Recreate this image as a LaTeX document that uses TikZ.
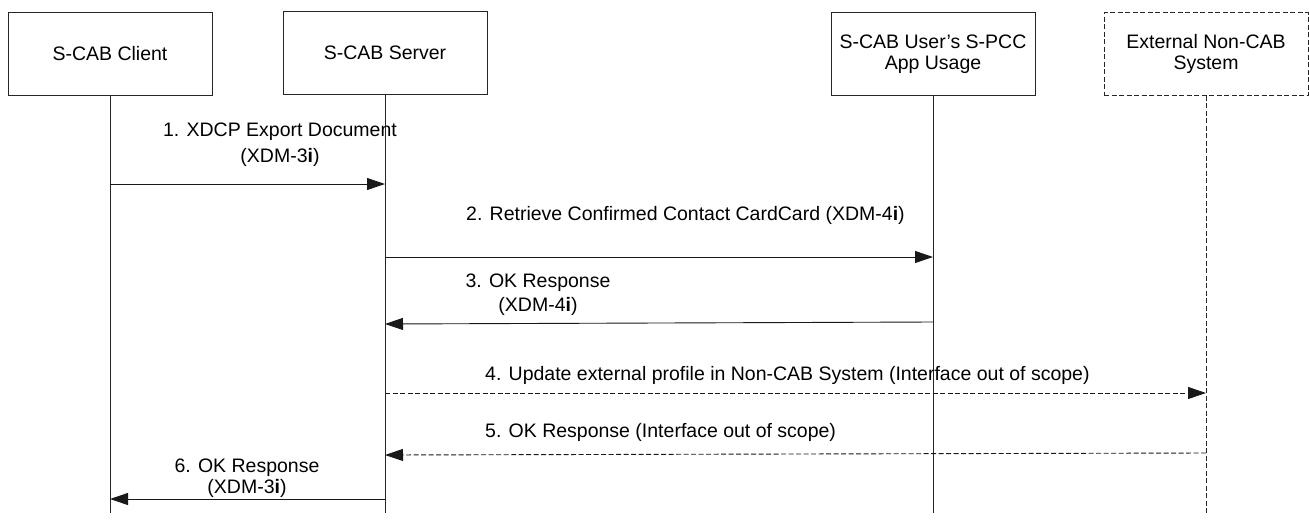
\documentclass[tikz,border=0pt]{standalone}
\usepackage{fontspec}
\setmainfont{Liberation Sans}
\usetikzlibrary{arrows.meta}
\begin{document}
\begin{tikzpicture}[x=1pt,y=-1pt,
  box/.style={draw=black!85,line width=0.9pt,minimum width=204pt,minimum height=83pt,inner sep=2pt,align=center,font=\fontsize{19.5}{23}\selectfont},
  dbox/.style={box,dash pattern=on 5pt off 2.5pt},
  life/.style={draw=black!85,line width=0.9pt},
  dlife/.style={life,dash pattern=on 5pt off 2.5pt},
  msg/.style={draw=black!90,line width=0.9pt,-{Triangle[length=18pt,width=12pt]}},
  dmsg/.style={msg,dash pattern=on 5pt off 2.5pt},
  lbl/.style={inner sep=0pt,align=center}]
\useasboundingbox (0,0) rectangle (1309,523);
\fill[white] (0,0) rectangle (1309,523);
% participants
\node[box] (c) at (110,53.5) {S-CAB Client};
\node[box] (s) at (385,53) {S-CAB Server};
\node[box] (u) at (933,54) {S-CAB User's S-PCC\\[-2pt]App Usage};
\node[dbox] (e) at (1206,54) {External Non-CAB\\[-2pt]System};
% lifeline ends
\coordinate (ce) at (110,513);
\coordinate (se) at (385,513);
\coordinate (ue) at (933,513);
\coordinate (ee) at (1206,513);
\draw[life] (c.south) -- (ce);
\draw[life] (s.south) -- (se);
\draw[life] (u.south) -- (ue);
\draw[dlife] (e.south) -- (ee);
% messages
\draw[msg] (c.south |- 0,184) -- (s.south |- 0,184);
\draw[msg] (s.south |- 0,257) -- (u.south |- 0,257);
\draw[msg] (u.south |- 0,322) -- (s.south |- 0,324);
\draw[dmsg] (s.south |- 0,393) -- (e.south |- 0,393);
\draw[dmsg] (e.south |- 0,453) -- (s.south |- 0,455);
\draw[msg] (s.south |- 0,499) -- (c.south |- 0,499);
% labels
\node[lbl,font=\fontsize{19.5}{26}\selectfont] (l1) at (280,145) {1. XDCP Export Document\\(XDM-3\textbf{i})};
\node[lbl,anchor=west,font=\fontsize{19.5}{23}\selectfont] (l2) at (466,215) {2. Retrieve Confirmed Contact CardCard (XDM-4\textbf{i})};
\node[lbl,font=\fontsize{19.5}{24}\selectfont] (l3) at (538,295) {3. OK Response\\(XDM-4\textbf{i})};
\node[lbl,anchor=west,font=\fontsize{19.5}{23}\selectfont] (l4) at (485,375) {4. Update external profile in Non-CAB System (Interface out of scope)};
\node[lbl,anchor=west,font=\fontsize{19.5}{23}\selectfont] (l5) at (485,432) {5. OK Response (Interface out of scope)};
\node[lbl,font=\fontsize{19.5}{21}\selectfont] (l6) at (247,478.5) {6. OK Response\\(XDM-3\textbf{i})};
\end{tikzpicture}
\end{document}
